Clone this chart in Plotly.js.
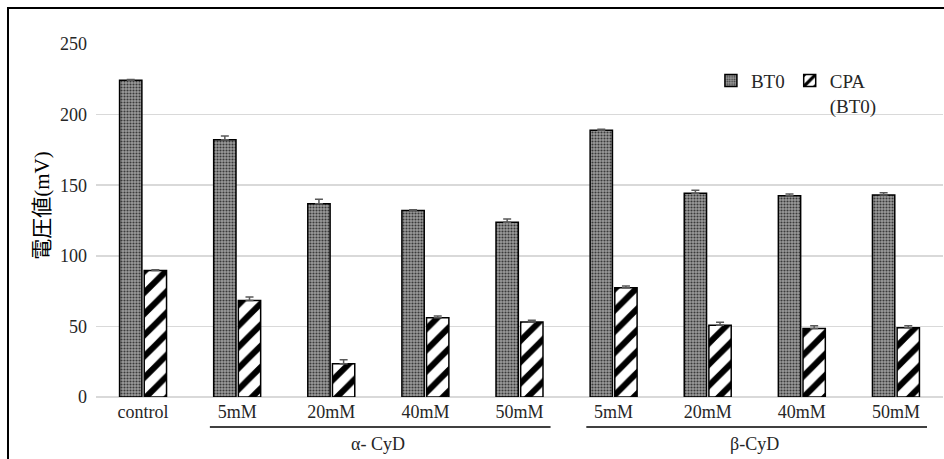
<!DOCTYPE html>
<html>
<head>
<meta charset="utf-8">
<script src="https://cdn.plot.ly/plotly-3.0.1.min.js"></script>
<style>
  html, body { margin: 0; padding: 0; background: #fff; }
  #chart { width: 944px; height: 459px; }
</style>
</head>
<body>
<div id="chart"></div>
<script>
// Concentration labels along the x axis (first is the untreated control)
const concentrations = ['control', '5mM', '20mM', '40mM', '50mM', '5mM', '20mM', '40mM', '50mM'];
// Cyclodextrin group labels and which categories they span
const groupLabels = ['α- CyD', 'β-CyD'];
const groupSpans = [[1, 4], [5, 8]];

// Series names and axis title
const seriesNames = ['BT0', 'CPA<br>(BT0)'];
const yTitle = '電圧値(mV)';

// Voltage values (mV) and their upper error values
const bt0 = [224.3, 182.2, 136.8, 132.0, 123.8, 189.0, 144.3, 142.6, 143.0];
const bt0Err = [0.6, 2.6, 3.2, 0.7, 2.3, 0.7, 2.1, 1.2, 1.6];
const cpa = [89.6, 68.4, 23.6, 56.2, 53.1, 77.4, 50.8, 48.5, 49.0];
const cpaErr = [0.5, 2.4, 2.8, 1.2, 1.2, 1.2, 2.1, 1.9, 1.4];

const serif = 'Times New Roman, Liberation Serif, serif';
const xIdx = concentrations.map((_, i) => i);

const errStyle = (arr) => ({
  type: 'data', array: arr, arrayminus: arr.map(() => 0), symmetric: false,
  color: '#595959', thickness: 1.5, width: 4, visible: true
});

const traces = [
  {
    type: 'bar', name: seriesNames[0], x: xIdx, y: bt0,
    marker: {
      color: '#9c9c9c',
      pattern: { shape: '.', fgcolor: '#3a3a3a', bgcolor: '#9c9c9c', size: 3, solidity: 0.4 },
      line: { color: '#000', width: 1.5 }
    },
    error_y: errStyle(bt0Err)
  },
  {
    type: 'bar', name: seriesNames[1], x: xIdx, y: cpa,
    marker: {
      color: '#ffffff',
      pattern: { shape: '/', fgcolor: '#000', bgcolor: '#ffffff', size: 15, solidity: 0.4 },
      line: { color: '#000', width: 1.5 }
    },
    error_y: errStyle(cpaErr)
  }
];

// Underlines beneath each cyclodextrin group and the outer frame
const shapes = groupSpans.map(([a, b]) => ({
  type: 'line', xref: 'x', yref: 'paper',
  x0: a - 0.29, x1: b + 0.33, y0: -0.085, y1: -0.085,
  line: { color: '#404040', width: 2 }
}));
shapes.push({
  type: 'path', xref: 'paper', yref: 'paper',
  path: 'M -0.1039 -0.2 L -0.1039 1.102 L 1.05 1.102',
  line: { color: '#000', width: 2 }
});

const annotations = groupLabels.map((t, k) => ({
  text: t, xref: 'x', yref: 'paper',
  x: (groupSpans[k][0] + groupSpans[k][1]) / 2, y: -0.133,
  xanchor: 'center', yanchor: 'middle', showarrow: false,
  font: { family: serif, size: 18, color: '#262626' }
}));
// Vertical y-axis title
annotations.push({
  text: yTitle, xref: 'paper', yref: 'paper', x: -0.064, y: 0.544,
  xanchor: 'center', yanchor: 'middle', textangle: -90, showarrow: false,
  font: { family: 'Times New Roman, Liberation Serif, Noto Sans CJK JP', size: 21, color: '#000' }
});

const layout = {
  width: 944, height: 459,
  margin: { l: 96, r: 1, t: 44, b: 62 },
  paper_bgcolor: '#fff', plot_bgcolor: '#fff',
  barmode: 'group', bargap: 0.476, bargroupgap: 0.095,
  showlegend: true,
  legend: {
    orientation: 'h', x: 0.726, y: 0.95, xanchor: 'left', yanchor: 'top',
    valign: 'top', bgcolor: 'rgba(0,0,0,0)',
    font: { family: serif, size: 19, color: '#262626' }
  },
  xaxis: {
    tickvals: xIdx, ticktext: concentrations,
    range: [-0.5, concentrations.length - 0.5],
    ticks: '', showgrid: false, showline: false, zeroline: false,
    ticklabelstandoff: 2,
    tickfont: { family: serif, size: 18, color: '#262626' }
  },
  yaxis: {
    range: [0, 250], dtick: 50, ticks: '',
    showgrid: true, gridcolor: '#d9d9d9', gridwidth: 1.5,
    zeroline: true, zerolinecolor: '#d9d9d9', zerolinewidth: 1.5,
    showline: false, ticklabelstandoff: 8,
    tickfont: { family: serif, size: 18, color: '#262626' }
  },
  shapes: shapes,
  annotations: annotations
};

Plotly.newPlot('chart', traces, layout, { displayModeBar: false, staticPlot: true });
</script>
</body>
</html>
